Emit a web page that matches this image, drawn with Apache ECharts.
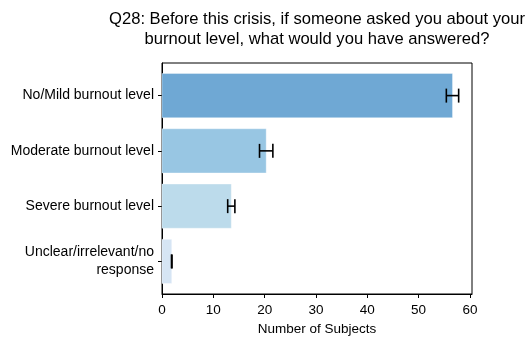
<!DOCTYPE html>
<html>
<head>
<meta charset="utf-8">
<script src="https://cdn.jsdelivr.net/npm/echarts@6/dist/echarts.min.js"></script>
<style>
  html, body { margin: 0; padding: 0; background: #fff; }
  #chart { width: 529px; height: 338px; }
</style>
</head>
<body>
<div id="chart"></div>
<script>
// Answer categories, top to bottom
const categories = [
  'No/Mild burnout level',
  'Moderate burnout level',
  'Severe burnout level',
  'Unclear/irrelevant/no\nresponse'
];
// Mean number of subjects per answer
const counts = [56.6, 20.3, 13.5, 1.9];
// Half-width of the error bar for each answer
const errors = [1.2, 1.3, 0.7, 0.05];
// X axis ticks
const xTicks = [0, 10, 20, 30, 40, 50, 60];

const barColors = ['#6fa8d4', '#98c6e3', '#bcdbeb', '#d6e5f4'];
const FONT = '"Liberation Sans", Arial, Helvetica, sans-serif';

const barData = counts.map((v, i) => [v, i]);

const chart = echarts.init(document.getElementById('chart'), null, { renderer: 'canvas' });

chart.setOption({
  animation: false,
  backgroundColor: '#fff',
  graphic: [{
    type: 'text',
    x: 317,
    y: 9,
    style: {
      text: 'Q28: Before this crisis, if someone asked you about your\nburnout level, what would you have answered?',
      font: '16.6px ' + FONT,
      fill: '#000',
      align: 'center',
      verticalAlign: 'top',
      lineHeight: 20.5
    }
  }],
  grid: {
    left: 162, right: 57, top: 63, bottom: 44,
    outerBoundsMode: 'none',
    containLabel: false,
    show: true, borderColor: '#000', borderWidth: 1, backgroundColor: 'transparent'
  },
  xAxis: {
    type: 'value',
    min: 0,
    max: 60.4,
    interval: 10,
    name: 'Number of Subjects',
    nameLocation: 'middle',
    nameGap: 27,
    nameTextStyle: { fontFamily: FONT, fontSize: 13.5, color: '#000' },
    axisLine: { show: true, onZero: false, lineStyle: { color: '#000', width: 1 } },
    axisTick: { show: true, length: 4, lineStyle: { color: '#000' }, customValues: xTicks },
    axisLabel: { fontFamily: FONT, fontSize: 13.5, color: '#000', margin: 9, customValues: xTicks },
    splitLine: { show: false }
  },
  yAxis: {
    type: 'value',
    inverse: true,
    min: -0.59,
    max: 3.59,
    axisLine: { show: true, onZero: false, lineStyle: { color: '#000', width: 1 } },
    axisTick: { show: true, length: 4, lineStyle: { color: '#000' }, customValues: [0, 1, 2, 3] },
    axisLabel: {
      fontFamily: FONT, fontSize: 14, color: '#000', margin: 8, align: 'right', lineHeight: 18,
      padding: [3, 0, 0, 0],
      customValues: [0, 1, 2, 3],
      formatter: v => categories[Math.round(v)]
    },
    splitLine: { show: false }
  },
  series: [
    {
      type: 'custom',
      name: 'bars',
      encode: { x: 0, y: 1 },
      data: barData,
      renderItem: (params, api) => {
        const idx = api.value(1);
        const start = api.coord([0, idx]);
        const end = api.coord([api.value(0), idx]);
        const h = api.size([0, 0.8])[1];
        return {
          type: 'rect',
          shape: { x: start[0], y: start[1] - h / 2, width: end[0] - start[0], height: h },
          style: { fill: barColors[idx], stroke: 'rgba(255,255,255,0.35)', lineWidth: 1 }
        };
      }
    },
    {
      type: 'custom',
      name: 'errors',
      encode: { x: 0, y: 1 },
      data: barData,
      z: 3,
      renderItem: (params, api) => {
        const i = params.dataIndex;
        const v = counts[i], e = errors[i];
        const lo = api.coord([v - e, i]);
        const hi = api.coord([v + e, i]);
        const cap = 7;
        const style = { stroke: '#000', lineWidth: 1.6 };
        return {
          type: 'group',
          children: [
            { type: 'line', shape: { x1: lo[0], y1: lo[1], x2: hi[0], y2: hi[1] }, style: style },
            { type: 'line', shape: { x1: lo[0], y1: lo[1] - cap, x2: lo[0], y2: lo[1] + cap }, style: style },
            { type: 'line', shape: { x1: hi[0], y1: hi[1] - cap, x2: hi[0], y2: hi[1] + cap }, style: style }
          ]
        };
      }
    }
  ]
});
</script>
</body>
</html>
